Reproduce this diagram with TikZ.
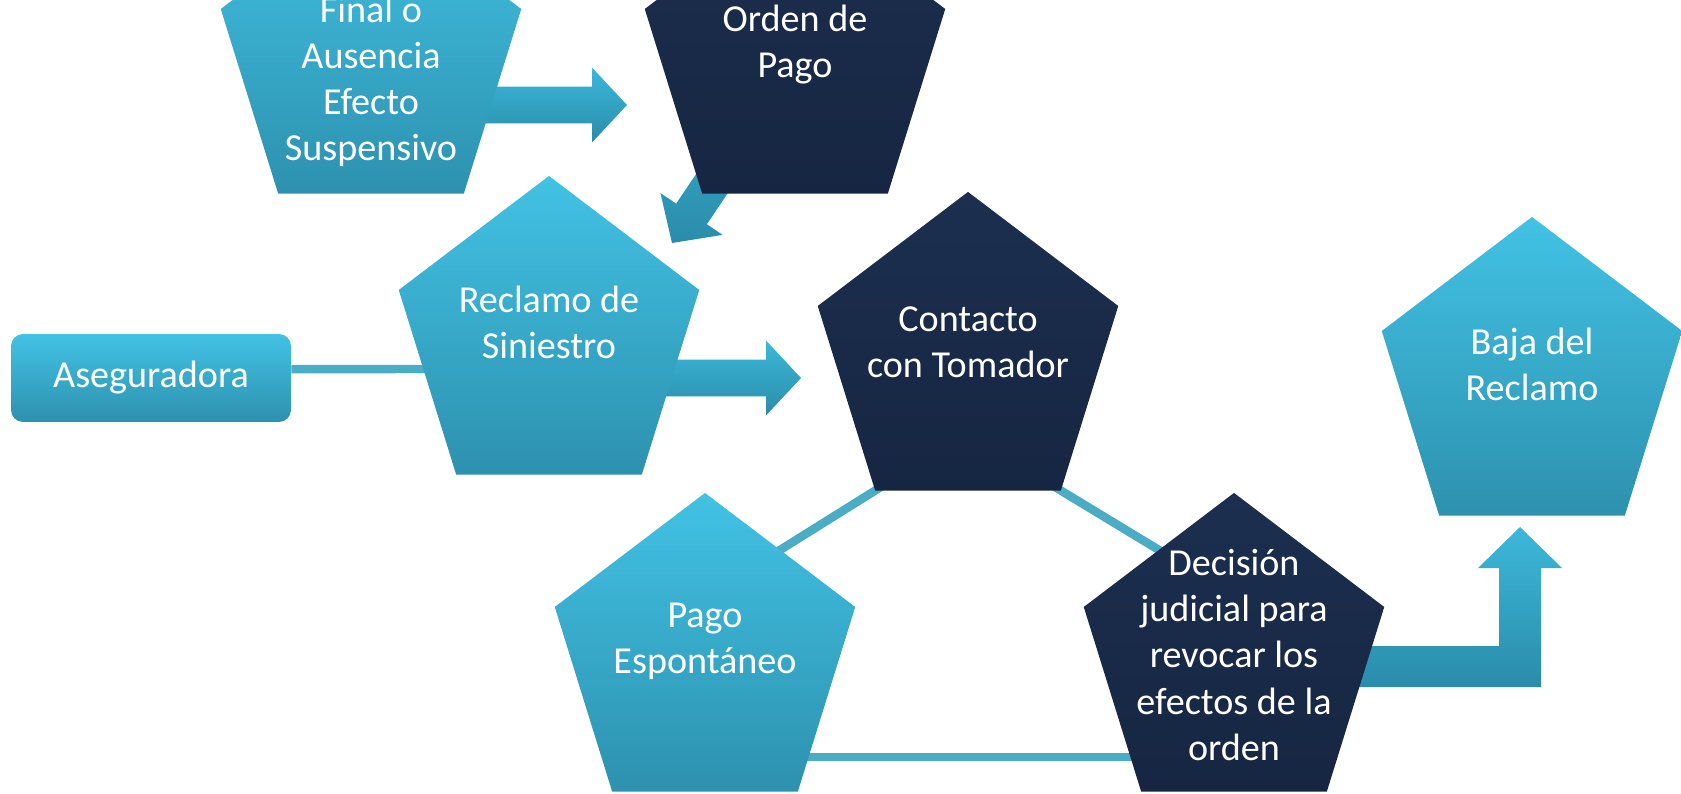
\documentclass[tikz,border=0pt]{standalone}
\usepackage{fontspec}
\setmainfont{Carlito}
\usetikzlibrary{shapes.geometric,calc}
\pgfdeclarelayer{background}
\pgfsetlayers{background,main}

\definecolor{cyanTop}{RGB}{66,194,228}
\definecolor{cyanBot}{RGB}{45,145,175}
\definecolor{navyTop}{RGB}{28,47,79}
\definecolor{navyBot}{RGB}{22,38,66}
\definecolor{linkblue}{RGB}{75,172,198}
\definecolor{arrowTop}{RGB}{60,184,218}
\definecolor{arrowBot}{RGB}{42,140,170}

\tikzset{
  pent/.style={regular polygon, regular polygon sides=5, minimum size=6.32cm,
    inner sep=0pt, outer sep=0pt, draw=none, yscale=1.045, transform shape},
  pentlight/.style={pent, top color=cyanTop, bottom color=cyanBot},
  pentdark/.style={pent, top color=navyTop, bottom color=navyBot},
  boxlight/.style={rectangle, rounded corners=0.24cm, minimum width=5.6cm,
    minimum height=1.76cm, top color=cyanTop, bottom color=cyanBot},
  txt/.style={text=white, align=center, font=\fontsize{21.7}{26.3}\selectfont},
  link/.style={draw=linkblue, line width=0.17cm},
  arrowfill/.style={top color=arrowTop, bottom color=arrowBot}
}

% block arrow from #1 to tip #2
\newcommand{\blockarrow}[2]{%
  \coordinate (ba-base) at ($(#2)!0.7cm!(#1)$);
  \path[arrowfill] ($(#1)!0.37cm!90:(#2)$) -- ($(ba-base)!0.37cm!90:(#2)$)
    -- ($(ba-base)!0.75cm!90:(#2)$) -- (#2) -- ($(ba-base)!0.75cm!-90:(#2)$)
    -- ($(ba-base)!0.37cm!-90:(#2)$) -- ($(#1)!0.37cm!-90:(#2)$) -- cycle;
}

\begin{document}
\begin{tikzpicture}[x=0.02cm, y=-0.02cm]
  \useasboundingbox (0,0) rectangle (1681,794);

  % Shapes
  \node[pentlight] (final) at (371,60) {};
  \node[txt] (final-t) at ([yshift=-0.43cm]final.center) {Final o\\Ausencia\\Efecto\\Suspensivo};

  \node[pentdark] (orden) at (795,60) {};
  \node[txt] (orden-t) at ([yshift=0.31cm]orden.center) {Orden de\\Pago};

  \node[boxlight, txt] (aseg) at (151,378) {Aseguradora};

  \node[pentlight] (reclamo) at (549,341) {};
  \node[txt] (reclamo-t) at ([yshift=0.37cm]reclamo.center) {Reclamo de\\Siniestro};

  \node[pentdark] (contacto) at (968,357) {};
  \node[txt] (contacto-t) at ([yshift=0.29cm]contacto.center) {Contacto\\con Tomador};

  \node[pentlight] (baja) at (1532,382) {};
  \node[txt] (baja-t) at ([yshift=0.35cm]baja.center) {Baja del\\Reclamo};

  \node[pentlight] (pago) at (705,658) {};
  \node[txt] (pago-t) at ([yshift=0.34cm]pago.center) {Pago\\Espontáneo};

  \node[pentdark] (decision) at (1234,658) {};
  \node[txt] (decision-t) at ([yshift=0.06cm]decision.center) {Decisión\\judicial para\\revocar los\\efectos de la\\orden};

  % Connectors and arrows, behind the shapes
  \begin{pgfonlayer}{background}
    \draw[link] ([yshift=0.18cm]aseg.east) -- ([yshift=-0.56cm]reclamo.center);
    \draw[link] ($(contacto.corner 3)!-0.1!(pago.side 5)$) -- ($(contacto.corner 3)!1.1!(pago.side 5)$);
    \draw[link] ($(contacto.corner 4)!-0.1!(decision.side 1)$) -- ($(contacto.corner 4)!1.1!(decision.side 1)$);
    \draw[link] ([yshift=-1.98cm]pago.center) -- ([yshift=-1.98cm]decision.center);

    \coordinate (a1-tip) at (627,105);
    \coordinate (a1-start) at (final.center |- a1-tip);
    \blockarrow{a1-start}{a1-tip}

    \coordinate (a2-tip) at (672,243);
    \blockarrow{orden.center}{a2-tip}

    \coordinate (a3-tip) at (801,378);
    \coordinate (a3-start) at (reclamo.center |- a3-tip);
    \blockarrow{a3-start}{a3-tip}

    % bent arrow up to Baja del Reclamo
    \coordinate (a4-tip) at (1520,527);
    \path[arrowfill] (decision.center |- 0,646) -- (1499,646) -- (1499,568) -- (1478,568)
      -- (a4-tip) -- (1562,568) -- (1541,568) -- (1541,687) -- (decision.center |- 0,687) -- cycle;
  \end{pgfonlayer}
\end{tikzpicture}
\end{document}
